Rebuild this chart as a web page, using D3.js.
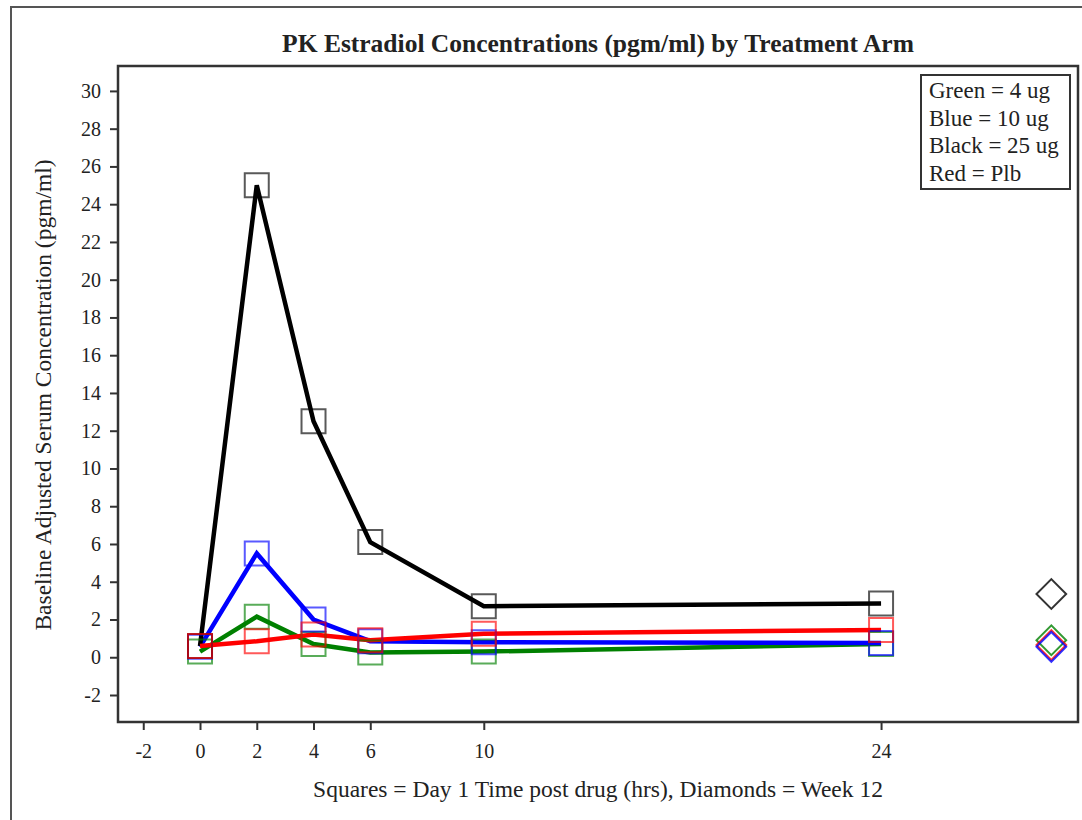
<!DOCTYPE html>
<html>
<head>
<meta charset="utf-8">
<script src="https://cdn.jsdelivr.net/npm/d3@7"></script>
<style>
  body { margin: 0; background: #fff; }
  svg text { font-family: "Liberation Serif", "DejaVu Serif", serif; fill: #222; }
</style>
</head>
<body>
<div id="chart"></div>
<script>
// day 1 sampling times (hrs) and the week 12 slot
var times = [0, 2, 4, 6, 10, 24];
var week12X = 30;
var xTicks = [-2, 0, 2, 4, 6, 10, 24];
var yTicks = [-2, 0, 2, 4, 6, 8, 10, 12, 14, 16, 18, 20, 22, 24, 26, 28, 30];

var green = [0.3, 2.15, 0.7, 0.25, 0.3, 0.7];
var blue  = [0.55, 5.5, 2.0, 0.85, 0.8, 0.75];
var black = [0.6, 25.0, 12.5, 6.1, 2.7, 2.85];
var red   = [0.6, 0.85, 1.2, 0.9, 1.25, 1.45];

var week12 = { green: 0.9, blue: 0.55, black: 3.35, red: 0.65 };
var legendLines = ["Green = 4 ug", "Blue = 10 ug", "Black = 25 ug", "Red = Plb"];

var series = [
  { name: "green", color: "#008000", values: green },
  { name: "blue",  color: "#0000ff", values: blue },
  { name: "black", color: "#000000", values: black },
  { name: "red",   color: "#ff0000", values: red }
];

var W = 1082, H = 820;
var plot = { left: 118, right: 1078, top: 66, bottom: 722 };

var svg = d3.select("#chart").append("svg")
    .attr("width", W)
    .attr("height", H);

// outer frame
svg.append("rect")
    .attr("x", 11).attr("y", 7)
    .attr("width", W + 20).attr("height", H + 20)
    .attr("fill", "none")
    .attr("stroke", "#555")
    .attr("stroke-width", 2);

var x = d3.scaleLinear().domain([-2.89, 30.94]).range([plot.left, plot.right]);
var y = d3.scaleLinear().domain([-3.43, 31.32]).range([plot.bottom, plot.top]);

// title
svg.append("text")
    .attr("x", 598).attr("y", 52)
    .attr("text-anchor", "middle")
    .style("font-size", "25.5px")
    .style("font-weight", "bold")
    .text("PK Estradiol Concentrations (pgm/ml) by Treatment Arm");

// axes
var yAxis = svg.append("g")
    .attr("transform", "translate(" + plot.left + ",0)")
    .call(d3.axisLeft(y).tickValues(yTicks).tickFormat(String).tickSize(8).tickPadding(9));
var xAxis = svg.append("g")
    .attr("transform", "translate(0," + plot.bottom + ")")
    .call(d3.axisBottom(x).tickValues(xTicks).tickFormat(String).tickSize(8).tickPadding(14));

[xAxis, yAxis].forEach(function (a) {
  a.attr("font-size", null).attr("font-family", null);
  a.select(".domain").remove();
  a.selectAll(".tick line").attr("stroke", "#333").attr("stroke-width", 2);
  a.selectAll(".tick text")
    .style("font-family", "Liberation Serif, serif")
    .style("font-size", "20px")
    .attr("fill", "#222");
});

// plot frame
svg.append("rect")
    .attr("x", plot.left).attr("y", plot.top)
    .attr("width", plot.right - plot.left)
    .attr("height", plot.bottom - plot.top)
    .attr("fill", "none")
    .attr("stroke", "#333")
    .attr("stroke-width", 2.5);

// axis labels
svg.append("text")
    .attr("transform", "translate(51,395) rotate(-90)")
    .attr("text-anchor", "middle")
    .style("font-size", "23.5px")
    .text("Baseline Adjusted Serum Concentration (pgm/ml)");

svg.append("text")
    .attr("x", 598).attr("y", 797)
    .attr("text-anchor", "middle")
    .style("font-size", "23.5px")
    .text("Squares = Day 1 Time post drug (hrs), Diamonds = Week 12");

// lines
var line = d3.line()
    .x(function (d, i) { return x(times[i]); })
    .y(function (d) { return y(d); });

svg.append("g").selectAll("path")
    .data(series)
    .join("path")
    .attr("d", function (s) { return line(s.values); })
    .attr("fill", "none")
    .attr("stroke", function (s) { return s.color; })
    .attr("stroke-width", 4.5)
    .attr("stroke-linejoin", "miter");

// squares for day 1
var square = d3.symbol().type(d3.symbolSquare).size(24 * 24);
series.forEach(function (s) {
  svg.append("g").selectAll("path")
      .data(s.values)
      .join("path")
      .attr("d", square)
      .attr("transform", function (d, i) { return "translate(" + x(times[i]) + "," + y(d) + ")"; })
      .attr("fill", "none")
      .attr("stroke", s.color)
      .attr("stroke-opacity", 0.65)
      .attr("stroke-width", 2);
});

// diamonds for week 12
var diamond = d3.symbol().type(d3.symbolSquare).size(21 * 21);
var diamondOrder = ["black", "green", "red", "blue"];
svg.append("g").selectAll("path")
    .data(diamondOrder)
    .join("path")
    .attr("d", diamond)
    .attr("transform", function (k) { return "translate(" + x(week12X) + "," + y(week12[k]) + ") rotate(45)"; })
    .attr("fill", "none")
    .attr("stroke", function (k) { return series.find(function (s) { return s.name === k; }).color; })
    .attr("stroke-opacity", 0.8)
    .attr("stroke-width", 2);

// legend
var leg = svg.append("g").attr("transform", "translate(921,75)");
leg.append("rect")
    .attr("width", 149).attr("height", 114)
    .attr("fill", "#fff")
    .attr("stroke", "#333")
    .attr("stroke-width", 2);
leg.selectAll("text")
    .data(legendLines)
    .join("text")
    .attr("x", 8)
    .attr("y", function (d, i) { return 23 + i * 27.5; })
    .style("font-size", "23px")
    .text(function (d) { return d; });
</script>
</body>
</html>
